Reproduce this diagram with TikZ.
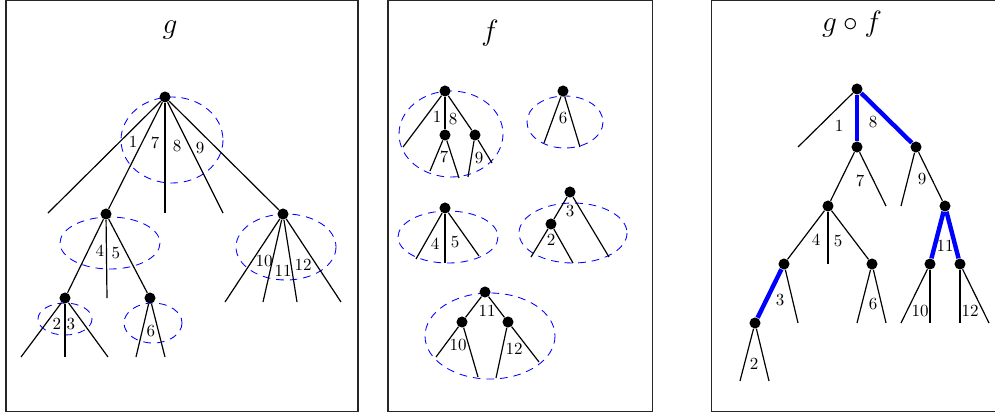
\documentclass[tikz,border=0pt]{standalone}
\begin{document}
\begin{tikzpicture}[x=0.588pt,y=-0.588pt,
  dot/.style={circle,fill=black,inner sep=0pt,minimum size=6.5pt},
  edge/.style={draw=black,line width=0.7pt},
  hl/.style={draw=blue,line width=2.6pt},
  oval/.style={draw=blue,dash pattern=on 4.5pt off 3.5pt,line width=0.5pt},
  lab/.style={inner sep=0pt,font=\normalsize},
  ttl/.style={inner sep=0pt,anchor=base,font=\fontsize{16}{19}\selectfont},
  frame/.style={draw=black!85,line width=0.6pt}]
\useasboundingbox (0,0) rectangle (995,413);
% frames
\draw[frame] (6,0.8) rectangle (358,411);
\draw[frame] (388,0.8) rectangle (652,411);
\draw[frame] (711,0.8) rectangle (1000,411);
% titles
\node[ttl] (tg) at (170,33) {$g$};
\node[ttl] (tf) at (490,40) {$f$};
\node[ttl] (tgf) at (852,31) {$g\circ f$};

%%%%%%%%%%%%%%%% panel g
\draw[oval] (172,140) ellipse [x radius=51,y radius=43];
\draw[oval] (110,243) ellipse [x radius=50,y radius=26];
\draw[oval] (286,247) ellipse [x radius=50,y radius=33];
\draw[oval] (65,319) ellipse [x radius=27,y radius=16];
\draw[oval] (153,323) ellipse [x radius=29,y radius=20];
\node[dot] (gr) at (165,97) {};
\node[dot] (gA) at (106,214) {};
\node[dot] (gB) at (283,214) {};
\node[dot] (gC) at (65,298) {};
\node[dot] (gD) at (150,298) {};
\coordinate (gl1) at (48,213);
\coordinate (gl8) at (165,213);
\coordinate (gl9) at (223,213);
\coordinate (gl5) at (107,298);
\coordinate (gb1) at (225,302);
\coordinate (gb2) at (263,302);
\coordinate (gb3) at (297,302);
\coordinate (gb4) at (341,302);
\coordinate (gc1) at (21,357);
\coordinate (gc2) at (65,357);
\coordinate (gc3) at (108,357);
\coordinate (gd1) at (136,357);
\coordinate (gd2) at (165,357);
\draw[edge] (gr) -- (gl1);
\draw[edge] (gr) -- (gA);
\draw[edge] (gr) -- (gl8);
\draw[edge] (gr) -- (gl9);
\draw[edge] (gr) -- (gB);
\draw[edge] (gA) -- (gC);
\draw[edge] (gA) -- (gl5);
\draw[edge] (gA) -- (gD);
\draw[edge] (gB) -- (gb1);
\draw[edge] (gB) -- (gb2);
\draw[edge] (gB) -- (gb3);
\draw[edge] (gB) -- (gb4);
\draw[edge] (gC) -- (gc1);
\draw[edge] (gC) -- (gc2);
\draw[edge] (gC) -- (gc3);
\draw[edge] (gD) -- (gd1);
\draw[edge] (gD) -- (gd2);
\node[lab] (g1) at (133,142) {1};
\node[lab] (g7) at (155,143) {7};
\node[lab] (g8) at (177,146) {8};
\node[lab] (g9) at (200,148) {9};
\node[lab] (g4) at (100,251) {4};
\node[lab] (g5) at (116,253) {5};
\node[lab] (g10) at (264,261) {10};
\node[lab] (g11) at (283,271) {11};
\node[lab] (g12) at (303,265) {12};
\node[lab] (g2) at (57,324) {2};
\node[lab] (g3) at (71,324) {3};
\node[lab] (g6) at (151,331) {6};

%%%%%%%%%%%%%%%% panel f
\draw[oval] (451,134) ellipse [x radius=52,y radius=43];
\draw[oval] (565,122) ellipse [x radius=38,y radius=26];
\draw[oval] (448,237) ellipse [x radius=50,y radius=26];
\draw[oval] (573,233) ellipse [x radius=54,y radius=30];
\draw[oval] (490,336) ellipse [x radius=65,y radius=43];
% tree 1
\node[dot] (f1r) at (445,91) {};
\node[dot] (f1a) at (445,135) {};
\node[dot] (f1b) at (475,135) {};
\coordinate (f1l) at (403,147);
\coordinate (f1a1) at (430,171);
\coordinate (f1a2) at (459,178);
\coordinate (f1b1) at (468,177);
\coordinate (f1b2) at (492,163);
\draw[edge] (f1r) -- (f1l);
\draw[edge] (f1r) -- (f1a);
\draw[edge] (f1r) -- (f1b);
\draw[edge] (f1a) -- (f1a1);
\draw[edge] (f1a) -- (f1a2);
\draw[edge] (f1b) -- (f1b1);
\draw[edge] (f1b) -- (f1b2);
\node[lab] (f1n) at (437,117) {1};
\node[lab] (f8n) at (453,119) {8};
\node[lab] (f7n) at (444,157) {7};
\node[lab] (f9n) at (479,158) {9};
% tree 2
\node[dot] (f2r) at (563,91) {};
\coordinate (f2a) at (544,143);
\coordinate (f2b) at (580,147);
\draw[edge] (f2r) -- (f2a);
\draw[edge] (f2r) -- (f2b);
\node[lab] (f6n) at (563,118) {6};
% tree 3
\node[dot] (f3r) at (445,208) {};
\coordinate (f3a) at (416,259);
\coordinate (f3b) at (445,263);
\coordinate (f3c) at (479,256);
\draw[edge] (f3r) -- (f3a);
\draw[edge] (f3r) -- (f3b);
\draw[edge] (f3r) -- (f3c);
\node[lab] (f4n) at (435,244) {4};
\node[lab] (f5n) at (455,242) {5};
% tree 4
\node[dot] (f4r) at (570,192) {};
\node[dot] (f4a) at (551,224) {};
\coordinate (f4l) at (609,257);
\coordinate (f4a1) at (531,257);
\coordinate (f4a2) at (573,263);
\draw[edge] (f4r) -- (f4a);
\draw[edge] (f4r) -- (f4l);
\draw[edge] (f4a) -- (f4a1);
\draw[edge] (f4a) -- (f4a2);
\node[lab] (f3n) at (570,211) {3};
\node[lab] (f2n) at (551,240) {2};
% tree 5
\node[dot] (f5r) at (485,292) {};
\node[dot] (f5a) at (462,322) {};
\node[dot] (f5b) at (508,322) {};
\coordinate (f5a1) at (436,357);
\coordinate (f5a2) at (478,377);
\coordinate (f5b1) at (496,378);
\coordinate (f5b2) at (539,362);
\draw[edge] (f5r) -- (f5a);
\draw[edge] (f5r) -- (f5b);
\draw[edge] (f5a) -- (f5a1);
\draw[edge] (f5a) -- (f5a2);
\draw[edge] (f5b) -- (f5b1);
\draw[edge] (f5b) -- (f5b2);
\node[lab] (f11n) at (487,311) {11};
\node[lab] (f10n) at (458,345) {10};
\node[lab] (f12n) at (514,349) {12};

%%%%%%%%%%%%%%%% panel g o f
\node[dot] (hr) at (857,89) {};
\node[dot] (h7) at (857,147) {};
\node[dot] (h9) at (916,147) {};
\node[dot] (h45) at (828,206) {};
\node[dot] (h11) at (945,206) {};
\node[dot] (h3) at (784,264) {};
\node[dot] (h6) at (872,264) {};
\node[dot] (h10) at (930,264) {};
\node[dot] (h12) at (960,264) {};
\node[dot] (h2) at (755,323) {};
\coordinate (hl1) at (798,147);
\coordinate (hl7) at (886,206);
\coordinate (hl9) at (901,206);
\coordinate (hl5) at (828,264);
\coordinate (hl3) at (798,323);
\coordinate (hl6a) at (857,323);
\coordinate (hl6b) at (886,323);
\coordinate (hl10a) at (901,323);
\coordinate (hl10b) at (930,323);
\coordinate (hl12a) at (960,323);
\coordinate (hl12b) at (989,323);
\coordinate (hl2a) at (740,381);
\coordinate (hl2b) at (769,381);
\draw[edge] (hr) -- (hl1);
\draw[hl] (hr) -- (h7);
\draw[hl] (hr) -- (h9);
\draw[edge] (h7) -- (h45);
\draw[edge] (h7) -- (hl7);
\draw[edge] (h9) -- (hl9);
\draw[edge] (h9) -- (h11);
\draw[edge] (h45) -- (h3);
\draw[edge] (h45) -- (hl5);
\draw[edge] (h45) -- (h6);
\draw[hl] (h3) -- (h2);
\draw[edge] (h3) -- (hl3);
\draw[edge] (h6) -- (hl6a);
\draw[edge] (h6) -- (hl6b);
\draw[hl] (h11) -- (h10);
\draw[hl] (h11) -- (h12);
\draw[edge] (h10) -- (hl10a);
\draw[edge] (h10) -- (hl10b);
\draw[edge] (h12) -- (hl12a);
\draw[edge] (h12) -- (hl12b);
\draw[edge] (h2) -- (hl2a);
\draw[edge] (h2) -- (hl2b);
\node[lab] (h1n) at (839,126) {1};
\node[lab] (h8n) at (873,122) {8};
\node[lab] (h7n) at (860,181) {7};
\node[lab] (h9n) at (922,179) {9};
\node[lab] (h4n) at (816,240) {4};
\node[lab] (h5n) at (838,241) {5};
\node[lab] (h3n) at (780,300) {3};
\node[lab] (h6n) at (873,304) {6};
\node[lab] (h11n) at (945,246) {11};
\node[lab] (h10n) at (920,311) {10};
\node[lab] (h12n) at (970,311) {12};
\node[lab] (h2n) at (754,364) {2};
\end{tikzpicture}
\end{document}
